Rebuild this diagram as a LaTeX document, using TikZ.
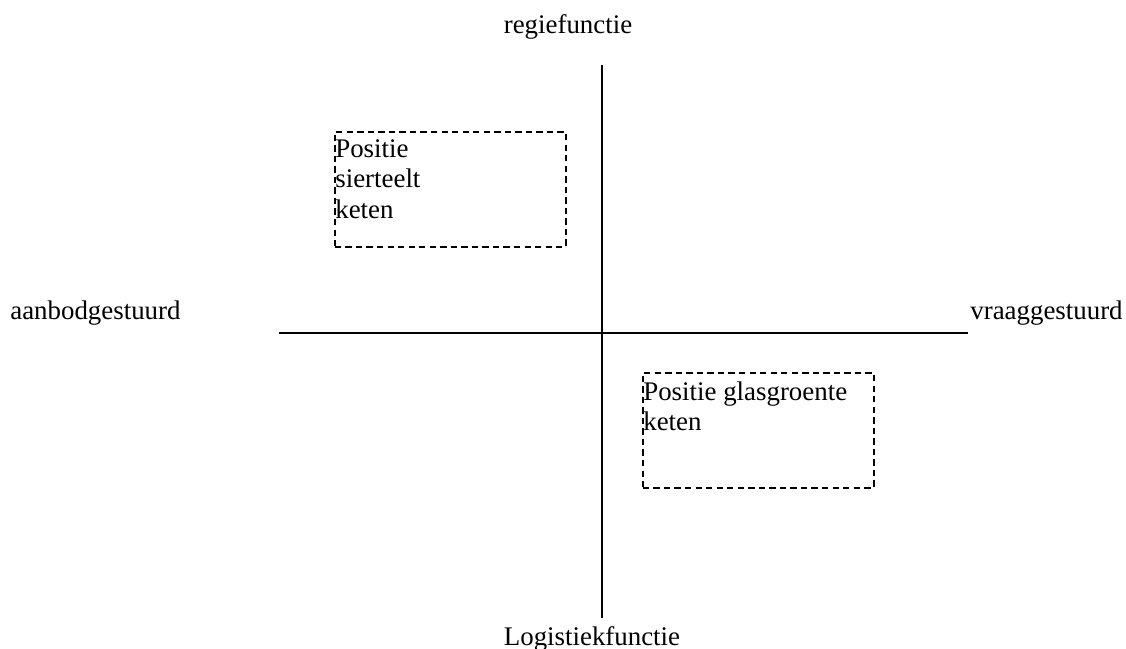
\documentclass[tikz,border=0pt]{standalone}
\usepackage{fontspec}
\setmainfont{Liberation Serif}
\tikzset{
  kader/.style={draw, line width=0.9pt, dash pattern=on 3.6pt off 2.4pt, minimum width=4.62cm, minimum height=2.3cm, inner sep=0pt, anchor=north west},
  tekst/.style={anchor=north west, align=left, inner sep=0pt},
  as/.style={line width=0.9pt},
  label/.style={anchor=base, inner sep=0pt}
}
\begin{document}
\begin{tikzpicture}[x=0.02cm, y=-0.02cm, font=\fontsize{15.3}{17.4}\selectfont]
\useasboundingbox (0,0) rectangle (1126,649);
% assen
\coordinate (boven) at (602,65);
\coordinate (onder) at (602,618);
\coordinate (links) at (279,333);
\coordinate (rechts) at (968,333);
\draw[as] (boven) -- (onder) (links) -- (rechts);
% labels
\node[label] (regie) at (568,33) {regiefunctie};
\node[label] (logistiek) at (592,645) {Logistiekfunctie};
\node[label, anchor=base west] (aanbod) at (10,319) {aanbodgestuurd};
\node[label, anchor=base west] (vraag) at (970,319) {vraaggestuurd};
% posities
\node[kader] (sierteelt) at (334,131) {};
\node[tekst] (sierteelttekst) at ([shift={(1,8)}]sierteelt.north west) {Positie\\sierteelt\\keten};
\node[kader] (glasgroente) at (642,372) {};
\node[tekst] (glasgroentetekst) at ([shift={(1,9)}]glasgroente.north west) {Positie glasgroente\\keten};
\end{tikzpicture}
\end{document}
